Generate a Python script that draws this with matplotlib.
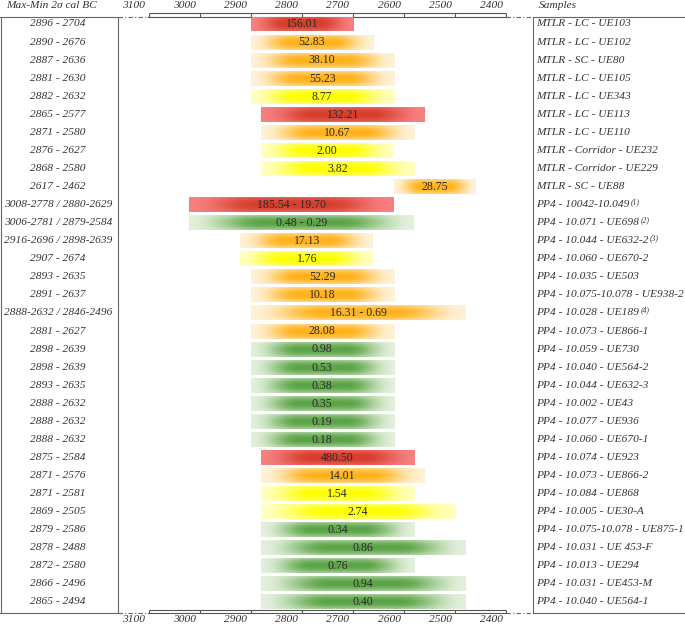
import numpy as np
import matplotlib
matplotlib.use('Agg')
import matplotlib.pyplot as plt
from matplotlib import transforms
from matplotlib.colors import to_rgb

# ---------------- data ----------------
ranges = ["2896 - 2704", "2890 - 2676", "2887 - 2636", "2881 - 2630", "2882 - 2632",
          "2865 - 2577", "2871 - 2580", "2876 - 2627", "2868 - 2580", "2617 - 2462",
          "3008-2778 / 2880-2629", "3006-2781 / 2879-2584", "2916-2696 / 2898-2639",
          "2907 - 2674", "2893 - 2635", "2891 - 2637", "2888-2632 / 2846-2496",
          "2881 - 2627", "2898 - 2639", "2898 - 2639", "2893 - 2635", "2888 - 2632",
          "2888 - 2632", "2888 - 2632", "2875 - 2584", "2871 - 2576", "2871 - 2581",
          "2869 - 2505", "2879 - 2586", "2878 - 2488", "2872 - 2580", "2866 - 2496",
          "2865 - 2494"]
values = ["156.01", "52.83", "38.10", "55.23", "8.77", "132.21", "10.67", "2.00", "3.82",
          "28.75", "185.54 - 19.70", "0.48 - 0.29", "17.13", "1.76", "52.29", "10.18",
          "16.31 - 0.69", "28.08", "0.98", "0.53", "0.38", "0.35", "0.19", "0.18",
          "480.50", "14.01", "1.54", "2.74", "0.34", "0.86", "0.76", "0.94", "0.40"]
samples = ["MTLR - LC - UE103", "MTLR - LC - UE102", "MTLR - SC - UE80", "MTLR - LC - UE105",
           "MTLR - LC - UE343", "MTLR - LC - UE113", "MTLR - LC - UE110",
           "MTLR - Corridor - UE232", "MTLR - Corridor - UE229", "MTLR - SC - UE88",
           "PP4 - 10042-10.049", "PP4 - 10.071 - UE698", "PP4 - 10.044 - UE632-2",
           "PP4 - 10.060 - UE670-2", "PP4 - 10.035 - UE503", "PP4 - 10.075-10.078 - UE938-2",
           "PP4 - 10.028 - UE189", "PP4 - 10.073 - UE866-1", "PP4 - 10.059 - UE730",
           "PP4 - 10.040 - UE564-2", "PP4 - 10.044 - UE632-3", "PP4 - 10.002 - UE43",
           "PP4 - 10.077 - UE936", "PP4 - 10.060 - UE670-1", "PP4 - 10.074 - UE923",
           "PP4 - 10.073 - UE866-2", "PP4 - 10.084 - UE868", "PP4 - 10.005 - UE30-A",
           "PP4 - 10.075-10.078 - UE875-1", "PP4 - 10.031 - UE 453-F", "PP4 - 10.013 - UE294",
           "PP4 - 10.031 - UE453-M", "PP4 - 10.040 - UE564-1"]
notes = [""] * 10 + ["(1)", "(2)", "(3)", "", "", "", "(4)"] + [""] * 16
bar_start = [2900, 2900, 2900, 2900, 2900, 2880, 2880, 2880, 2880, 2620,
             3020, 3020, 2920, 2920, 2900, 2900, 2900, 2900, 2900, 2900,
             2900, 2900, 2900, 2900, 2880, 2880, 2880, 2880, 2880, 2880,
             2880, 2880, 2880]
bar_end = [2700, 2660, 2620, 2620, 2620, 2560, 2580, 2620, 2580, 2460,
           2620, 2580, 2660, 2660, 2620, 2620, 2480, 2620, 2620, 2620,
           2620, 2620, 2620, 2620, 2580, 2560, 2580, 2500, 2580, 2480,
           2580, 2480, 2480]
classes = ["red", "orange", "orange", "orange", "yellow", "red", "orange", "yellow", "yellow",
           "orange", "red", "green", "orange", "yellow", "orange", "orange", "orange", "orange",
           "green", "green", "green", "green", "green", "green", "red", "orange", "yellow",
           "yellow", "green", "green", "green", "green", "green"]
tick_years = [3100, 3000, 2900, 2800, 2700, 2600, 2500, 2400]

palette = {  # (edge colour, centre colour)
    "red": ("#f78080", "#d63d2a"),
    "orange": ("#fff2d8", "#ffb21a"),
    "yellow": ("#ffffc0", "#ffff00"),
    "green": ("#e3f0dc", "#5ba446"),
}

# ---------------- figure ----------------
W, H = 685, 626
fig = plt.figure(figsize=(W / 100, H / 100), dpi=100)
fig.patch.set_facecolor("white")

def fx(px):
    return px / W

def fy(py):
    return 1 - py / H

TOP, BOT = 17, 613
ax = fig.add_axes([fx(118), fy(BOT), fx(533) - fx(118), fy(TOP) - fy(BOT)])
ax.axis("off")

# year scale: 3100 at px 148.5, 0.511 px / year
x0px, k = 148.5, 0.511
xl = 3100 + (x0px - 118) / k
xr = 3100 - (533 - x0px) / k
row0, dy = 24.0, 18.06
ylo = (BOT - row0) / dy
yhi = (TOP - row0) / dy

# gradient template
nu, nv = 240, 40
u = np.linspace(0, 1, nu)
v = np.linspace(0, 1, nv)
hx = np.clip(np.minimum(u, 1 - u) / 0.33, 0, 1)
hx = hx * hx * (3 - 2 * hx)
hy = 1 - np.abs(2 * v - 1) ** 2
wgt = (hx[None, :] * (0.45 + 0.55 * hy[:, None]))[..., None]

bh = 0.83
for i, (s, e, c) in enumerate(zip(bar_start, bar_end, classes)):
    edge = np.array(to_rgb(palette[c][0]))
    cen = np.array(to_rgb(palette[c][1]))
    img = edge[None, None, :] * (1 - wgt) + cen[None, None, :] * wgt
    ax.imshow(img, extent=(s, e, i + bh / 2, i - bh / 2), aspect="auto",
              interpolation="bilinear", zorder=2)
    ax.text((s + e) / 2, i + 0.02, values[i], ha="center", va="center",
            fontsize=8.5, family="Liberation Serif", color="#2a2a2a", zorder=3)

ax.set_xlim(xl, xr)
ax.set_ylim(ylo, yhi)

# rulers (top and bottom)
xt = ax.get_xaxis_transform()
def yfrac(py):
    return (BOT - py) / (BOT - TOP)

rcol, rlw = "#555555", 0.8
for ly, ty0, ty1 in [(12.5, 12.5, TOP), (609.5, 609.5, BOT)]:
    ax.plot([tick_years[0], tick_years[-1]], [yfrac(ly)] * 2, color=rcol, lw=rlw,
            transform=xt, clip_on=False, solid_capstyle="butt")
    for t in tick_years:
        ax.plot([t, t], [yfrac(ty0), yfrac(ty1)], color=rcol, lw=rlw,
                transform=xt, clip_on=False, solid_capstyle="butt")

shift = transforms.ScaledTranslation(-15 / 100, 0, fig.dpi_scale_trans)
for t in tick_years:
    for py in (6, 620):
        ax.text(t, yfrac(py), str(t), transform=xt + shift, ha="center", va="center",
                fontsize=8.2, family="Liberation Serif", style="italic", color="#333333")

# table columns
colx = transforms.blended_transform_factory(fig.transFigure, ax.transData)
for i in range(len(ranges)):
    ax.text(fx(58), i, ranges[i], transform=colx, ha="center", va="center",
            fontsize=8.2, family="Liberation Serif", style="italic", color="#333333",
            clip_on=False)
    st = ax.text(fx(536), i, samples[i], transform=colx, ha="left", va="center",
                 fontsize=8.2, family="Liberation Serif", style="italic", color="#333333",
                 clip_on=False)
    if notes[i]:
        ax.annotate(notes[i], xy=(1, 1), xycoords=st, xytext=(1, 1.5),
                    textcoords="offset points", ha="left", va="top", fontsize=5.5,
                    family="Liberation Serif", style="italic", color="#333333")

fig.text(fx(52), fy(6), "Max-Min 2σ cal BC", ha="center", va="center", fontsize=8.2,
         family="Liberation Serif", style="italic", color="#333333")
fig.text(fx(539), fy(6), "Samples", ha="left", va="center", fontsize=8.2,
         family="Liberation Serif", style="italic", color="#333333")

# table frame lines
ax0 = fig.add_axes([0, 0, 1, 1], zorder=-1)
ax0.set_xlim(0, W)
ax0.set_ylim(H, 0)
ax0.axis("off")
lc, lw = "#666666", 0.8
for yy in (TOP, BOT):
    ax0.plot([0, 118], [yy, yy], color=lc, lw=lw)
    ax0.plot([118, 148.5], [yy, yy], color=lc, lw=lw, linestyle=(0, (4, 2, 1, 2)))
    ax0.plot([148.5, 506], [yy, yy], color=rcol, lw=rlw)
    ax0.plot([506, 533], [yy, yy], color=lc, lw=lw, linestyle=(0, (4, 2, 1, 2)))
    ax0.plot([533, W], [yy, yy], color=lc, lw=lw)
for xx in (1, 118, 533):
    ax0.plot([xx, xx], [TOP, BOT], color=lc, lw=lw)

fig.savefig("out.png", dpi=100)
